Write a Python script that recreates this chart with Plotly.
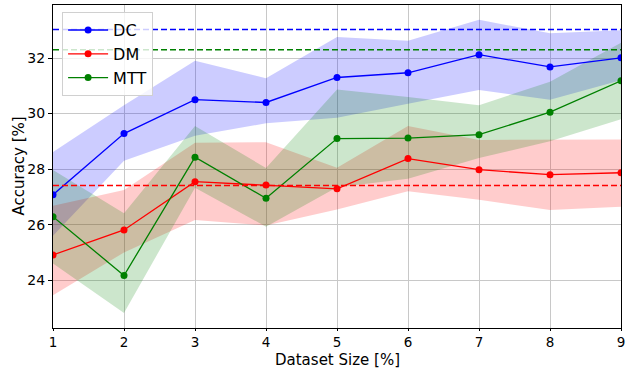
import plotly.graph_objects as go

x = [1, 2, 3, 4, 5, 6, 7, 8, 9]

dc_mean = [27.08, 29.28, 30.50, 30.40, 31.30, 31.47, 32.12, 31.68, 32.01]
dc_upper = [28.62, 30.30, 31.90, 31.27, 32.76, 32.62, 33.38, 32.89, 33.00]
dc_lower = [25.60, 28.30, 29.20, 29.65, 29.85, 30.35, 30.85, 30.50, 31.20]

dm_mean = [24.91, 25.81, 27.55, 27.43, 27.29, 28.38, 27.98, 27.80, 27.87]
dm_upper = [26.68, 27.25, 28.95, 28.97, 28.05, 29.55, 29.05, 29.07, 29.07]
dm_lower = [23.46, 25.00, 26.17, 25.97, 26.55, 27.20, 26.90, 26.53, 26.65]

mtt_mean = [26.29, 24.17, 28.43, 26.95, 29.10, 29.12, 29.24, 30.05, 31.18]
mtt_upper = [27.97, 26.41, 29.55, 28.04, 30.87, 30.60, 30.30, 31.15, 32.55]
mtt_lower = [24.60, 22.82, 27.33, 25.93, 27.35, 27.65, 28.40, 29.00, 29.80]

baselines = {"DC": 33.03, "DM": 27.41, "MTT": 32.30}

x_title = "Dataset Size [%]"
y_title = "Accuracy [%]"

series = [
    ("DC", dc_mean, dc_upper, dc_lower, "#0000ff", "rgba(0,0,255,0.2)"),
    ("DM", dm_mean, dm_upper, dm_lower, "#ff0000", "rgba(255,0,0,0.2)"),
    ("MTT", mtt_mean, mtt_upper, mtt_lower, "#008000", "rgba(0,128,0,0.2)"),
]

fig = go.Figure()

for name, mean, up, lo, col, fcol in series:
    fig.add_trace(go.Scatter(
        x=x + x[::-1], y=up + lo[::-1], fill="toself", fillcolor=fcol,
        line=dict(width=0, color=fcol), mode="lines", hoverinfo="skip",
        showlegend=False))

for name, mean, up, lo, col, fcol in series:
    fig.add_shape(type="line", xref="x", yref="y",
                  x0=x[0], x1=x[-1], y0=baselines[name], y1=baselines[name],
                  line=dict(color=col, width=1.5, dash="6px,3px"), layer="above")

for name, mean, up, lo, col, fcol in series:
    fig.add_trace(go.Scatter(
        x=x, y=mean, mode="lines+markers", name=name,
        line=dict(color=col, width=1.3),
        marker=dict(color=col, size=7)))

fig.add_annotation(text=x_title, xref="paper", yref="paper", x=0.5, y=0,
                   xanchor="center", yanchor="middle", yshift=-32,
                   showarrow=False, font=dict(size=15), borderpad=0)
fig.add_annotation(text=y_title, xref="paper", yref="paper", x=0, y=0.5,
                   xanchor="center", yanchor="middle", xshift=-35, textangle=-90,
                   showarrow=False, font=dict(size=15))

fig.update_layout(
    width=626, height=368,
    margin=dict(l=53, r=5, t=5, b=40),
    paper_bgcolor="white", plot_bgcolor="white",
    font=dict(family="DejaVu Sans", color="black", size=14),
    legend=dict(
        x=0.016, y=0.978, xanchor="left", yanchor="top",
        font=dict(size=16), bgcolor="rgba(255,255,255,0.8)",
        bordercolor="#d0d0d0", borderwidth=1, tracegroupgap=0,
        itemwidth=40),
    xaxis=dict(
        range=[1, 9], tickvals=x, showgrid=True, gridcolor="#c8c8c8", gridwidth=1,
        zeroline=False, showline=True, linecolor="black", linewidth=1.2, mirror=True,
        ticks="outside", ticklen=2, tickcolor="black",
        tickfont=dict(size=13.5), automargin=False),
    yaxis=dict(
        range=[22.28, 33.91], tickvals=[24, 26, 28, 30, 32], showgrid=True,
        gridcolor="#c8c8c8", gridwidth=1,
        zeroline=False, showline=True, linecolor="black", linewidth=1.2, mirror=True,
        ticks="outside", ticklen=4, tickcolor="black",
        tickfont=dict(size=14), automargin=False),
)

fig.write_html("out.html")
